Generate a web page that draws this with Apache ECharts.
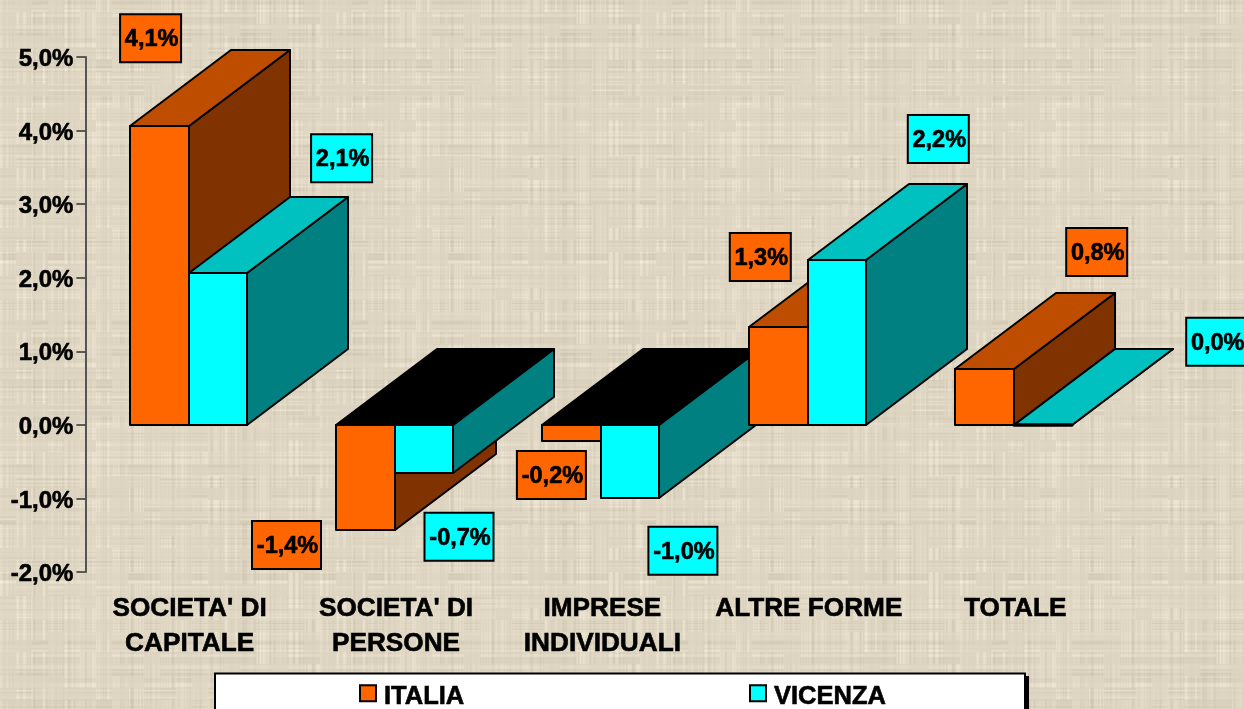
<!DOCTYPE html>
<html>
<head>
<meta charset="utf-8">
<style>html,body{margin:0;padding:0;background:#dcd3bd;overflow:hidden}#c{width:1244px;height:709px}</style>
<script src="https://cdn.jsdelivr.net/npm/echarts@6/dist/echarts.min.js"></script>
</head>
<body>
<div id="c"></div>
<script>
// ---- data ----
const categories = ["SOCIETA' DI\nCAPITALE", "SOCIETA' DI\nPERSONE", "IMPRESE\nINDIVIDUALI", "ALTRE FORME", "TOTALE"];
const italia = [4.06, -1.43, -0.22, 1.33, 0.76];
const vicenza = [2.06, -0.65, -0.99, 2.24, 0];
const italiaLabels = ["4,1%", "-1,4%", "-0,2%", "1,3%", "0,8%"];
const vicenzaLabels = ["2,1%", "-0,7%", "-1,0%", "2,2%", "0,0%"];

// ---- layout of the free-floating label boxes: offset from the bar's value point ----
const italiaLabelOffset = [[-38, -88], [-108.5, 15], [-50, 34], [-47.5, -70], [82.5, -117]];
const vicenzaLabelOffset = [[153, -115], [64, 64], [81.5, 53], [130.5, -121], [202.5, -83]];

const FONT = '"Liberation Sans", Arial, sans-serif';
const orange = { front: '#FF6600', top: '#BF4D00', side: '#803300' };
const cyan = { front: '#00FFFF', top: '#00C0C0', side: '#008080' };

// woven burlap tile, from a fixed integer hash (decoration only)
function weave() {
  const S = 320, cv = document.createElement('canvas');
  cv.width = cv.height = S;
  const g = cv.getContext('2d'), im = g.createImageData(S, S);
  const h = n => { let x = (n * 2654435761) >>> 0; x ^= x >>> 13; x = (x * 1274126177) >>> 0; x ^= x >>> 16; return (x & 1023) / 1023; };
  const cols = [], rows = [];
  for (let i = 0; i < S; i++) { cols.push(h(i * 7 + 3) - 0.5); rows.push(h(i * 13 + 11) - 0.5); }
  for (let y = 0; y < S; y++) for (let x = 0; x < S; x++) {
    const bx = Math.floor(x / 16), by = Math.floor(y / 12);
    const patch = h(bx * 31 + by * 977 + 5), patch2 = h(bx * 57 + by * 431 + 9);
    const cx = (cols[x] + cols[(x + 1) % S]) / 2, ry = (rows[y] + rows[(y + 1) % S]) / 2;
    const d = cx * 26 * Math.max(0.1, patch) + ry * 26 * Math.max(0.1, patch2) + (patch - 0.5) * 3;
    const i = (y * S + x) * 4;
    im.data[i] = 222 + d; im.data[i + 1] = 213 + d; im.data[i + 2] = 194 + d * 1.1; im.data[i + 3] = 255;
  }
  g.putImageData(im, 0, 0);
  return cv;
}

function polygon(points, fill, z2, lineWidth) {
  return { type: 'polygon', shape: { points }, z2,
    style: { fill, stroke: '#000', lineWidth: lineWidth || 2, lineJoin: 'round' } };
}

function barRenderer(palette, seriesIdx, labels, offsets) {
  return function (params, api) {
    const cat = api.value(0), val = api.value(1);
    const zero = api.coord([cat, 0]), tip = api.coord([cat, val]);
    const band = api.size([1, 0])[0];
    const w = band * 0.2835, dx = Math.round(w * 1.727), dy = Math.round(w * 1.3);
    const mid = Math.round(zero[0]);
    const x0 = seriesIdx === 0 ? mid - Math.ceil(w) : mid;
    const x1 = seriesIdx === 0 ? mid : mid + Math.floor(w);
    const upper = Math.round(Math.min(zero[1], tip[1])), lower = Math.round(Math.max(zero[1], tip[1]));
    const z = 10 + cat * 10 + seriesIdx * 3;
    const children = [
      polygon([[x1, upper], [x1 + dx, upper - dy], [x1 + dx, lower - dy], [x1, lower]], palette.side, z),
      polygon([[x0, upper], [x0 + dx, upper - dy], [x1 + dx, upper - dy], [x1, upper]], val < 0 ? '#000' : palette.top, z + 1),
      polygon([[x0, upper], [x1, upper], [x1, lower], [x0, lower]], palette.front, z + 2, val === 0 ? 3.5 : 2)
    ];
    const off = offsets[params.dataIndex], text = labels[params.dataIndex];
    const bw = val < 0 ? 69 : 61, bh = 48, cx = tip[0] + off[0], cy = tip[1] + off[1];
    children.push({ type: 'rect', z2: 200, shape: { x: cx - bw / 2, y: cy - bh / 2, width: bw, height: bh },
      style: { fill: palette.front, stroke: '#000', lineWidth: 2 } });
    children.push({ type: 'text', z2: 201, x: cx + 1, y: cy + 1.5,
      style: { text, fill: '#000', stroke: '#000', lineWidth: 0.6, font: 'bold 23.5px ' + FONT, align: 'center', verticalAlign: 'middle' } });
    return { type: 'group', children };
  };
}

const legendBase = {
  orient: 'horizontal', top: 684, itemWidth: 16, itemHeight: 16, icon: 'rect', padding: 0,
  selectedMode: false, formatter: name => '{a|' + name + '}',
  textStyle: { rich: { a: { color: '#000', fontFamily: FONT, fontWeight: 'bold', fontSize: 25.5, textBorderColor: '#000', textBorderWidth: 0.6, padding: [8, 0, 0, 3] } } }
};

const chart = echarts.init(document.getElementById('c'), null, { renderer: 'canvas' });
chart.setOption({
  animation: false,
  backgroundColor: { image: weave(), repeat: 'repeat' },
  grid: { left: 85.4, top: 57, width: 1032, height: 515, containLabel: false },
  xAxis: {
    type: 'category', data: categories, position: 'bottom',
    axisLine: { show: false }, axisTick: { show: false },
    axisLabel: { interval: 0, margin: 19, color: '#000', fontFamily: FONT, fontWeight: 'bold', fontSize: 26.2, lineHeight: 35, align: 'center',
      textBorderColor: '#000', textBorderWidth: 0.6, padding: [0, 0, 0, 2] }
  },
  yAxis: {
    type: 'value', min: -2, max: 5, interval: 1,
    splitLine: { show: false },
    axisLine: { show: true, lineStyle: { color: '#555', width: 2 } },
    axisTick: { show: true, length: 9, lineStyle: { color: '#333', width: 1.5 } },
    axisLabel: { margin: 12, color: '#000',
      rich: { a: { color: '#000', fontFamily: FONT, fontWeight: 'bold', fontSize: 24, textBorderColor: '#000', textBorderWidth: 0.6, padding: [5, 0, 0, 0] } },
      formatter: v => '{a|' + v.toFixed(1).replace('.', ',') + '%}' }
  },
  legend: [
    Object.assign({}, legendBase, { left: 359, data: ['ITALIA'] }),
    Object.assign({}, legendBase, { left: 749, data: ['VICENZA'] })
  ],
  graphic: [
    { type: 'rect', z: 0, silent: true, shape: { x: 218, y: 676, width: 811, height: 40 }, style: { fill: '#000' } },
    { type: 'rect', z: 0, silent: true, shape: { x: 215, y: 673.5, width: 810, height: 42 }, style: { fill: '#fff', stroke: '#000', lineWidth: 2 } }
  ],
  series: [
    { name: 'ITALIA', type: 'custom', clip: false, renderItem: barRenderer(orange, 0, italiaLabels, italiaLabelOffset),
      itemStyle: { color: orange.front, borderColor: '#000', borderWidth: 2 },
      encode: { x: 0, y: 1 }, data: italia.map((v, i) => [i, v]) },
    { name: 'VICENZA', type: 'custom', clip: false, renderItem: barRenderer(cyan, 1, vicenzaLabels, vicenzaLabelOffset),
      itemStyle: { color: cyan.front, borderColor: '#000', borderWidth: 2 },
      encode: { x: 0, y: 1 }, data: vicenza.map((v, i) => [i, v]) }
  ]
});
</script>
</body>
</html>
